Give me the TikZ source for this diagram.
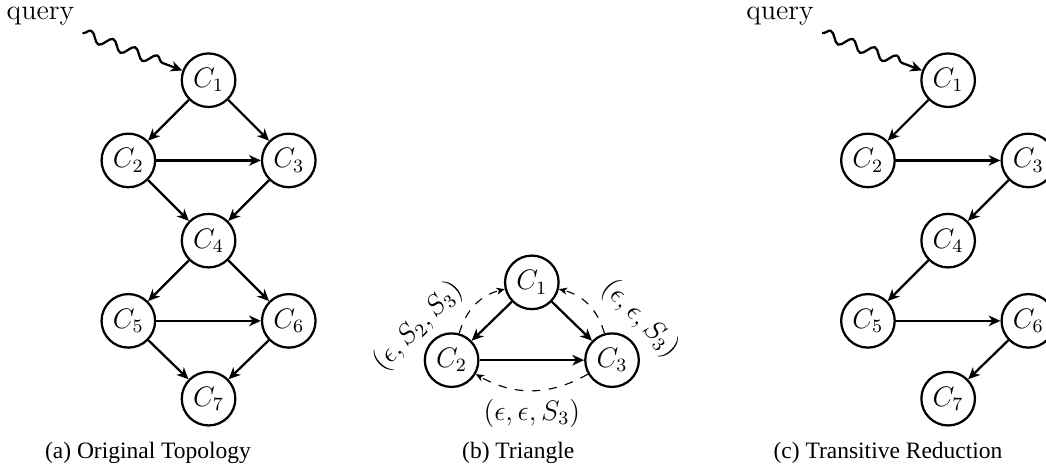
\documentclass[tikz,border=0pt]{standalone}
\usepackage{fontspec}
\newfontfamily\capfont{Liberation Serif}
\usepackage{tikz}
\usetikzlibrary{arrows.meta,decorations.pathmorphing}
\tikzset{comp/.style={
    circle, draw, line width=0.96pt,
    minimum size=22.8pt, inner sep=0pt,
    font=\large
  },
  link/.style={-{Stealth[length=5pt,width=4.5pt,inset=1.5pt]}, line width=0.96pt},
  back/.style={-{Stealth[length=3.5pt,width=3pt,inset=1pt]}, line width=0.48pt,
    dash pattern=on 3.6pt off 3.6pt},
  query/.style={-{Stealth[length=5pt,width=4.5pt,inset=1.5pt]}, line width=0.96pt,
    decorate, decoration={snake, segment length=10pt, amplitude=2.2pt, post length=8pt}},
  caption/.style={font=\capfont, anchor=base}
}
\begin{document}
\begin{tikzpicture}[x=1.2cm,y=1.2cm]
    \useasboundingbox (0,0) rectangle (13.04,-5.86);
    \foreach \n/\x/\y in {1/2.6/-1,2/1.6/-2,3/3.6/-2,4/2.6/-3,5/1.6/-4,6/3.6/-4,7/2.6/-4.97} {
      \node[comp] (a\n) at (\x,\y) {$C_\n$};
      \node[comp] (c\n) at (\x+9.22,\y) {$C_\n$};
    }
    \node[anchor=base west, font=\large] (qa) at (-0.02,-0.237) {query};
    \node[anchor=base west, font=\large] (qc) at (9.2,-0.237) {query};
    \draw[query] (qa.south east) -- (a1);
    \draw[query] (qc.south east) -- (c1);
    \foreach \s/\t in {1/2,1/3,2/3,2/4,3/4,4/5,4/6,5/6,5/7,6/7}
      \draw[link] (a\s) -- (a\t);
    \foreach \s/\t in {1/2,2/3,3/4,4/5,5/6,6/7}
      \draw[link] (c\s) -- (c\t);
    \node[comp] (b1) at (6.63,-3.52) {$C_1$};
    \node[comp] (b2) at (5.63,-4.49) {$C_2$};
    \node[comp] (b3) at (7.63,-4.49) {$C_3$};
    \draw[link] (b1) -- (b2);
    \draw[link] (b1) -- (b3);
    \draw[link] (b2) -- (b3);
    \draw[back] (b2) to[bend left] (b1);
    \draw[back] (b3) to[bend right] (b1);
    \draw[back] (b3) to[bend left] node[below, font=\large] (l23) {$(\epsilon,\epsilon,S_3)$} (b2);
    \node[rotate=45, font=\large] (l21) at (5.21,-4.07) {$(\epsilon,S_2,S_3)$};
    \node[rotate=-45, font=\large] (l31) at (7.98,-3.97) {$(\epsilon,\epsilon,S_3)$};
    \node[caption] (capa) at (1.845,-5.71) {(a) Original Topology};
    \node[caption] (capb) at (6.46,-5.71) {(b) Triangle};
    \node[caption] (capc) at (11.07,-5.71) {(c) Transitive Reduction};
  \end{tikzpicture}
\end{document}
